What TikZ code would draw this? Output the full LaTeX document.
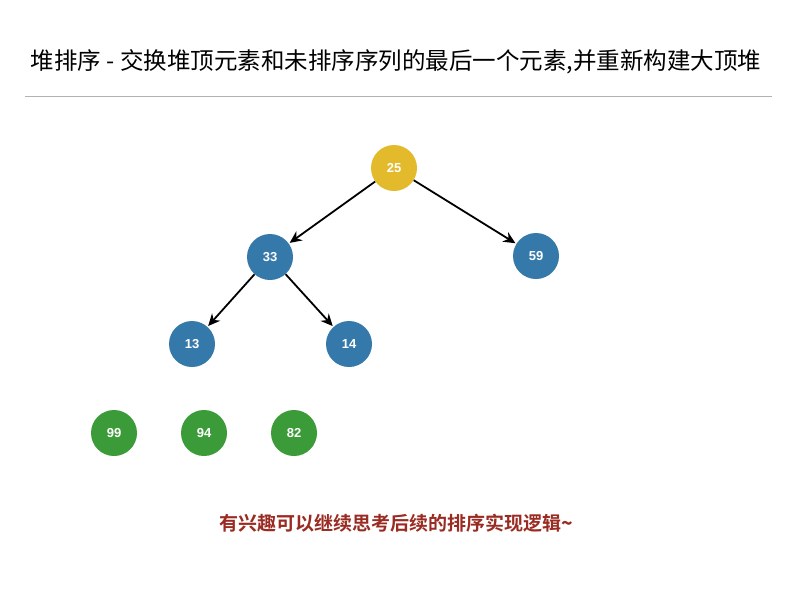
\documentclass[tikz,border=0pt]{standalone}
\usepackage{fontspec}
\setmainfont{Liberation Sans}
\newfontfamily\cjk{Noto Sans CJK SC}
\newfontfamily\cjkbold{Noto Sans CJK SC Bold}
\definecolor{heapyellow}{HTML}{E2BA2C}
\definecolor{heapblue}{HTML}{3579AA}
\definecolor{heapgreen}{HTML}{3A9B38}
\definecolor{hintred}{HTML}{9A2B22}
\tikzset{
  key/.style={circle,minimum size=46pt,inner sep=0pt,text=white,font=\bfseries\fontsize{13}{13}\selectfont},
  top/.style={key,fill=heapyellow},
  heap/.style={key,fill=heapblue},
  sorted/.style={key,fill=heapgreen},
  link/.style={line width=1.8pt,-{Stealth[length=12pt,width=11pt]},shorten >=1pt}
}
\usetikzlibrary{arrows.meta}
\begin{document}
\begin{tikzpicture}[x=1pt,y=-1pt]
\useasboundingbox (0,0) rectangle (800,598);
\fill[white] (0,0) rectangle (800,598);
\node (title) at (396,62) {\cjk\fontsize{23.5}{23.5}\selectfont 堆排序 - 交换堆顶元素和未排序序列的最后一个元素,并重新构建大顶堆};
\coordinate (ruleL) at (25,96);
\coordinate (ruleR) at (772,96);
\draw[gray!60,line width=1pt] (ruleL) -- (ruleR);
% heap
\node[top]  (n25) at (394,168) {25};
\node[heap] (n33) at (270,257) {33};
\node[heap] (n59) at (536,256) {59};
\node[heap] (n13) at (192,344) {13};
\node[heap] (n14) at (349,344) {14};
% sorted part
\node[sorted] (n99) at (114,433) {99};
\node[sorted] (n94) at (204,433) {94};
\node[sorted] (n82) at (294,433) {82};
\draw[link] (n25) -- (n33);
\draw[link] (n25) -- (n59);
\draw[link] (n33) -- (n13);
\draw[link] (n33) -- (n14);
\node[text=hintred] (hint) at (396,523) {\cjkbold\fontsize{19}{19}\selectfont 有兴趣可以继续思考后续的排序实现逻辑\textbf{\char`~}};
\end{tikzpicture}
\end{document}
